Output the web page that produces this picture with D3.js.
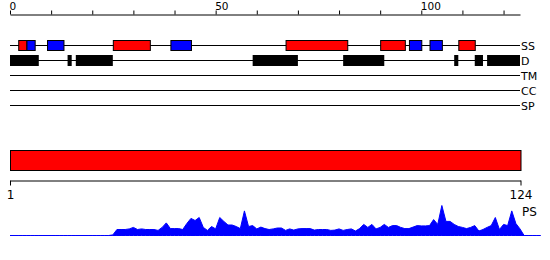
<!DOCTYPE html>
<html>
<head>
<meta charset="utf-8">
<script src="https://cdn.jsdelivr.net/npm/d3@7"></script>
<style>
  body { margin: 0; background: #fff; }
  svg { display: block; font-family: "DejaVu Sans", sans-serif; }
</style>
</head>
<body>
<div id="plot"></div>
<script>
// sequence length and track names
var seqLength = 124;
var trackNames = ["SS", "D", "TM", "CC", "SP"];
var axisLabels = [0, 50, 100];

// secondary structure: [start, end, type]  H = helix, E = strand
var ssData = [
	[2, 4, "H"], [4, 6, "E"], [9, 13, "E"], [25, 34, "H"], [39, 44, "E"],
	[67, 82, "H"], [90, 96, "H"], [97, 100, "E"], [102, 105, "E"], [109, 113, "H"]
];
// disorder regions: [start, end]
var disorderData = [
	[0, 7], [14, 15], [16, 25], [59, 70], [81, 91], [108, 109], [113, 115], [116, 124]
];
// per residue score, residue 0 .. 129
var psScores = [
	0, 0, 0, 0, 0, 0, 0, 0, 0, 0, 0, 0, 0, 0, 0, 0, 0, 0, 0, 0, 0, 0, 0, 0, 0,
	0.02, 0.20, 0.20, 0.20, 0.22, 0.27, 0.20, 0.22, 0.20, 0.20, 0.20, 0.17, 0.27, 0.42, 0.23,
	0.23, 0.23, 0.20, 0.40, 0.57, 0.50, 0.60, 0.27, 0.17, 0.30, 0.22, 0.60, 0.47, 0.35, 0.35,
	0.30, 0.23, 0.82, 0.30, 0.33, 0.22, 0.28, 0.23, 0.20, 0.22, 0.25, 0.25, 0.17, 0.22, 0.18,
	0.22, 0.23, 0.23, 0.23, 0.18, 0.20, 0.20, 0.20, 0.17, 0.18, 0.22, 0.17, 0.20, 0.22, 0.15,
	0.23, 0.37, 0.27, 0.37, 0.22, 0.27, 0.37, 0.27, 0.33, 0.33, 0.27, 0.23, 0.23, 0.28, 0.33,
	0.32, 0.32, 0.33, 0.53, 0.37, 1.00, 0.47, 0.47, 0.37, 0.30, 0.27, 0.23, 0.27, 0.33, 0.15,
	0.20, 0.27, 0.33, 0.60, 0.20, 0.37, 0.33, 0.82, 0.40, 0.22, 0, 0, 0, 0, 0
];

var ssColor = { H: "#ff0000", E: "#0000ff" };

var width = 550, height = 260;
var svg = d3.select("#plot").append("svg").attr("width", width).attr("height", height);

var x = d3.scaleLinear().domain([0, seqLength]).range([10, 520]);
var trackY = d3.scalePoint().domain(trackNames).range([45, 105]);

// top ruler
var topAxis = d3.axisTop(x).tickValues(d3.range(0, seqLength + 1, 10))
	.tickSize(4).tickSizeOuter(0)
	.tickFormat(function(d) { return axisLabels.indexOf(d) >= 0 ? d : ""; });
var gTop = svg.append("g").attr("transform", "translate(0,14.5)").call(topAxis);
gTop.selectAll("text").attr("text-anchor", "start").attr("dx", "-1")
	.attr("y", -5).attr("font-size", 10.5).attr("font-family", "DejaVu Sans").attr("fill", "#000");
gTop.select(".domain").attr("stroke", "#000");

// track lines and labels
var tracks = svg.append("g");
tracks.selectAll("line").data(trackNames).enter().append("line")
	.attr("x1", x(0)).attr("x2", x(seqLength))
	.attr("y1", function(d) { return trackY(d) + 0.5; })
	.attr("y2", function(d) { return trackY(d) + 0.5; })
	.attr("stroke", "#000");
tracks.selectAll("text").data(trackNames).enter().append("text")
	.attr("x", x(seqLength) + 1)
	.attr("y", function(d) { return trackY(d) + 4.5; })
	.attr("font-size", 11).text(function(d) { return d; });

// SS boxes
svg.append("g").selectAll("rect").data(ssData).enter().append("rect")
	.attr("x", function(d) { return x(d[0]) + 0.5; })
	.attr("width", function(d) { return x(d[1]) - x(d[0]); })
	.attr("y", trackY("SS") - 4.5).attr("height", 10)
	.attr("fill", function(d) { return ssColor[d[2]]; })
	.attr("stroke", "#000");

// disorder boxes
svg.append("g").selectAll("rect").data(disorderData).enter().append("rect")
	.attr("x", function(d) { return x(d[0]); })
	.attr("width", function(d) { return x(d[1]) - x(d[0]); })
	.attr("y", trackY("D") - 5).attr("height", 11)
	.attr("fill", "#000");

// full length bar
var xb = d3.scaleLinear().domain([1, seqLength]).range([10, 520.5]);
svg.append("rect")
	.attr("x", xb(1) + 0.5).attr("y", 150.5)
	.attr("width", xb(seqLength) - xb(1)).attr("height", 20)
	.attr("fill", "#ff0000").attr("stroke", "#000");

// bottom ruler
var botAxis = d3.axisBottom(xb).tickValues([1, seqLength]).tickSize(5).tickSizeOuter(0);
var gBot = svg.append("g").attr("transform", "translate(0,180.5)").call(botAxis);
gBot.selectAll("text").attr("y", 10).attr("font-size", 12)
	.attr("font-family", "DejaVu Sans").attr("fill", "#000");
gBot.select(".domain").attr("stroke", "#000");

svg.append("text").attr("x", xb(seqLength) + 1.5).attr("y", 215.5)
	.attr("font-size", 12).text("PS");

// PS profile
var y = d3.scaleLinear().domain([0, 1]).range([235.5, 205.5]);
var area = d3.area()
	.x(function(d, i) { return x(i); })
	.y0(y(0))
	.y1(function(d) { return y(d); });
svg.append("path").datum(psScores)
	.attr("d", area)
	.attr("fill", "#0000ff").attr("stroke", "#0000ff").attr("stroke-width", 1);
</script>
</body>
</html>
